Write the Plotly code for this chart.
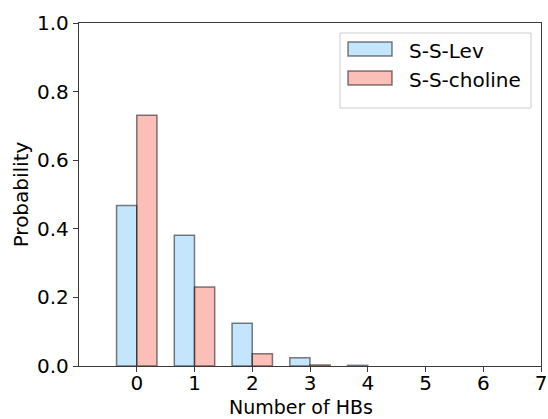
import plotly.graph_objects as go

# Hydrogen-bond count distribution for the two systems
hbs_lev = [0, 1, 2, 3, 4]
prob_lev = [0.468, 0.381, 0.125, 0.024, 0.002]
hbs_choline = [0, 1, 2, 3]
prob_choline = [0.731, 0.230, 0.036, 0.003]
series_names = ["S-S-Lev", "S-S-choline"]
x_ticks = [0, 1, 2, 3, 4, 5, 6, 7]
y_ticks = [0.0, 0.2, 0.4, 0.6, 0.8, 1.0]

fill_lev = "rgba(135,206,250,0.5)"
fill_choline = "rgba(250,128,114,0.5)"
edge = "rgba(0,0,0,0.5)"
bar_w = 0.35
font = "DejaVu Sans"

fig = go.Figure()
fig.add_trace(go.Bar(
    x=hbs_lev, y=prob_lev, name=series_names[0],
    width=bar_w, offset=-bar_w,
    marker=dict(color=fill_lev, line=dict(color=edge, width=1.5)),
    showlegend=False,
))
fig.add_trace(go.Bar(
    x=hbs_choline, y=prob_choline, name=series_names[1],
    width=bar_w, offset=0,
    marker=dict(color=fill_choline, line=dict(color=edge, width=1.5)),
    showlegend=False,
))

# Legend box drawn in paper coordinates (wide patches, rounded frame)
W, H = 548, 419
L, R, T, B = 79, 7, 23, 53
pw, ph = W - L - R, H - T - B


def px(x):
    return (x - L) / pw


def py(y):
    return 1 - (y - T) / ph


shapes = [
    dict(type="rect", xref="paper", yref="paper",
         x0=px(340), x1=px(531), y0=py(108), y1=py(33),
         line=dict(color="rgba(204,204,204,1)", width=1),
         fillcolor="rgba(255,255,255,0.8)", layer="above"),
]
annotations = []
rows = [(49, fill_lev, series_names[0]), (78, fill_choline, series_names[1])]
for cy, col, name in rows:
    shapes.append(dict(type="rect", xref="paper", yref="paper",
                       x0=px(348), x1=px(392), y0=py(cy + 7), y1=py(cy - 7),
                       fillcolor=col, line=dict(color=edge, width=1.5),
                       layer="above"))
    annotations.append(dict(xref="paper", yref="paper", x=px(407), y=py(cy + 2),
                            text=name, showarrow=False, xanchor="left",
                            yanchor="middle",
                            font=dict(family=font, size=20, color="#000")))

# x-axis title placed just under the tick labels
annotations.append(dict(xref="paper", yref="paper", x=px(301), y=py(407),
                        text="Number of HBs", showarrow=False,
                        xanchor="center", yanchor="middle",
                        font=dict(family=font, size=19, color="#000")))

axis_common = dict(
    showline=True, linecolor="#3a3a3a", linewidth=1.3, mirror=True,
    ticks="outside", ticklen=5, tickwidth=1.2, tickcolor="#3a3a3a",
    showgrid=False, zeroline=False,
    tickfont=dict(family=font, size=20, color="#000"),
)

fig.update_layout(
    width=W, height=H,
    margin=dict(l=L, r=R, t=T, b=B, pad=0),
    paper_bgcolor="white", plot_bgcolor="white",
    barmode="overlay",
    shapes=shapes, annotations=annotations,
    xaxis=dict(range=[-1, 7], tickvals=x_ticks, automargin=False,
               ticklabelstandoff=-6,
               **axis_common),
    yaxis=dict(range=[0, 1], tickvals=y_ticks, tickformat=".1f", automargin=False,
               title=dict(text="Probability", standoff=3,
                          font=dict(family=font, size=20, color="#000")),
               **axis_common),
)

fig.write_html("out.html")
